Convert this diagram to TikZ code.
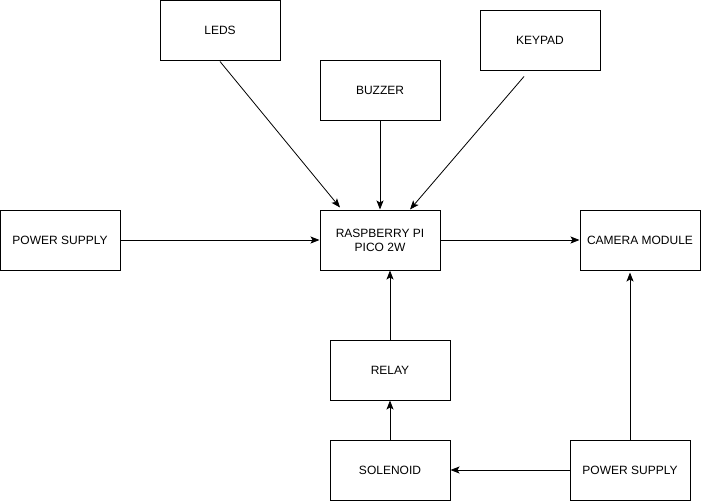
\documentclass[tikz,border=0pt]{standalone}
\usepackage{fontspec}
\setmainfont{Liberation Sans}
\usetikzlibrary{arrows.meta}

\tikzset{
  block/.style={draw, line width=1pt, minimum width=120pt, minimum height=60pt, align=center, inner sep=0pt, font=\fontsize{12}{14}\selectfont},
  link/.style={line width=0.8pt, -{Stealth[length=9pt,width=7pt,inset=2pt]}}
}

\begin{document}
\begin{tikzpicture}[x=1pt,y=-1pt]
\useasboundingbox (0,0) rectangle (701,501);

\node[block] (leds) at (220,30) {LEDS};
\node[block] (buzzer) at (380,90) {BUZZER};
\node[block] (keypad) at (540,40) {KEYPAD};
\node[block] (psleft) at (60,240) {POWER SUPPLY};
\node[block] (pico) at (380,240) {RASPBERRY PI\\PICO 2W};
\node[block] (camera) at (640,240) {CAMERA MODULE};
\node[block] (relay) at (390,370) {RELAY};
\node[block] (solenoid) at (390,470) {SOLENOID};
\node[block] (psright) at (630,470) {POWER SUPPLY};

\draw[link] ([yshift=-1pt]leds.south) -- ([xshift=-40pt,yshift=2pt]pico.north);
\draw[link] (buzzer.south) -- (pico.north);
\draw[link] ([xshift=-16pt,yshift=-6pt]keypad.south) -- ([xshift=30pt]pico.north);
\draw[link] (psleft.east) -- (pico.west);
\draw[link] (pico.east) -- (camera.west);
\draw[link] (relay.north) -- ([xshift=10pt]pico.south);
\draw[link] (solenoid.north) -- (relay.south);
\draw[link] (psright.west) -- (solenoid.east);
\draw[link] (psright.north) -- ([xshift=-10pt,yshift=-2pt]camera.south);
\end{tikzpicture}
\end{document}
